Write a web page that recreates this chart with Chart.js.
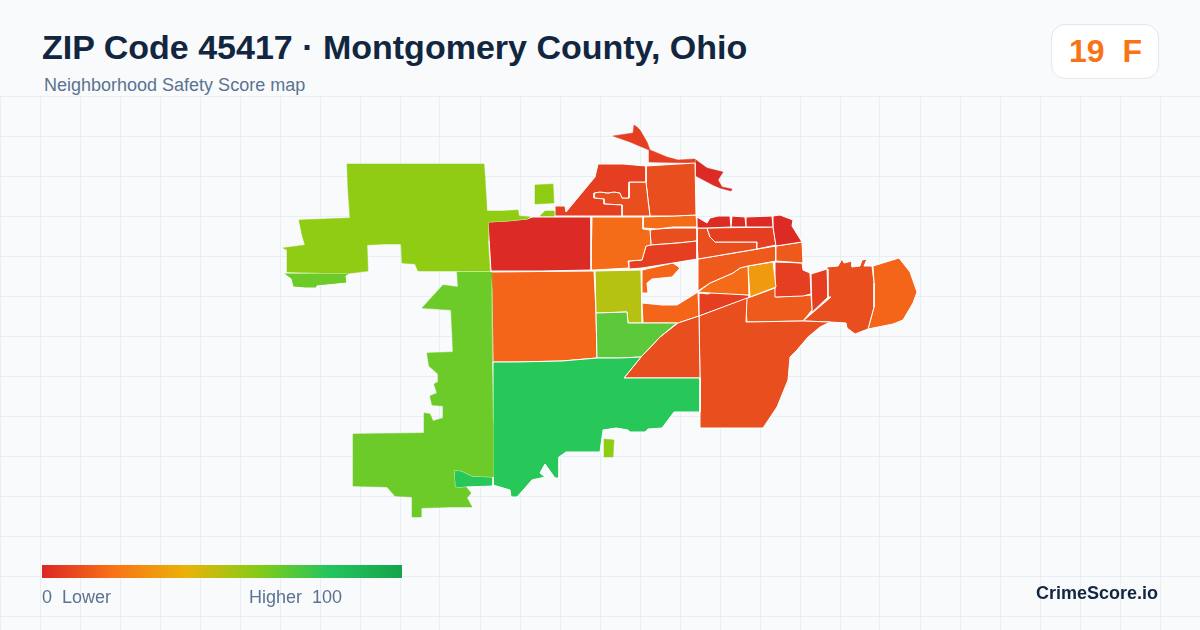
<!DOCTYPE html>
<html><head><meta charset="utf-8">
<script src="https://cdn.jsdelivr.net/npm/chart.js@4"></script>
<style>
html,body{margin:0;padding:0;width:1200px;height:630px;overflow:hidden;background:#f8fafc;font-family:"Liberation Sans",Arial,sans-serif}
#c{position:absolute;left:0;top:96px}
.t{position:absolute;white-space:pre;line-height:1}
#title{left:42px;top:30px;font-size:34px;font-weight:700;color:#13263f}
#sub{left:44px;top:76px;font-size:18px;color:#5b7390}
#badge{position:absolute;left:1051px;top:24px;width:106px;height:53px;background:#fff;border:1px solid #e2e8f0;border-radius:14px}
#score{left:1069px;top:35px;font-size:32px;font-weight:700;color:#f97316}
#bar{position:absolute;left:42px;top:565px;width:360px;height:13px;background:linear-gradient(90deg,#dc2626 0%,#f97316 20%,#eab308 40%,#84cc16 60%,#22c55e 80%,#16a34a 100%)}
.lg{font-size:18px;color:#5b7390;top:588px}
#brand{left:1036px;top:584px;font-size:18px;font-weight:700;color:#13263f}
</style></head><body>
<canvas id="c" width="1200" height="534"></canvas>
<div class="t" id="title">ZIP Code 45417 · Montgomery County, Ohio</div>
<div class="t" id="sub">Neighborhood Safety Score map</div>
<div id="badge"></div><div class="t" id="score">19  F</div>
<div id="bar"></div>
<div class="t lg" style="left:42px">0  Lower</div>
<div class="t lg" style="left:249px">Higher  100</div>
<div class="t" id="brand">CrimeScore.io</div>
<script>
const lime="#8fcc13", grass="#6ccb28", green="#28c75a", midGreen="#5cc93a", olive="#b5c212";
const red="#dc2b24", red2="#e63e20", flame="#e84e1e", flame2="#ee5a1b", orange="#f4651a", orange2="#f46b18", amber="#f09a10";

const nwLarge=[[347,164],[484,164],[485,177],[487,211],[503,211],[518,210],[519,216],[530,217],[527,219],[507,221],[488,222],[488,241],[490,271],[418,271],[415,264],[402,263],[401,244],[384,244],[367,245],[368,271],[352,273],[323,273],[287,272],[287,250],[283,248],[305,245],[302,235],[299,220],[324,219],[350,218],[348,190]];
const nwSquare=[[535,185],[553,184],[554,203],[535,204]];
const nwSliver=[[540,216],[545,211],[554,211],[554,216]];
const wSliver=[[283,273],[352,273],[346,276],[347,283],[317,286],[317,288],[305,288],[293,287],[291,279]];
const westLarge=[[457,272],[491,272],[492,290],[492,362],[493,423],[493,477],[472,476],[462,471],[454,470],[455,487],[460,488],[466,487],[471,493],[467,498],[472,507],[450,507],[421,508],[421,517],[412,517],[412,497],[395,496],[387,487],[353,486],[353,434],[424,433],[424,413],[430,414],[433,421],[443,418],[443,406],[432,405],[430,396],[437,393],[434,384],[438,382],[438,374],[429,366],[427,353],[453,352],[451,310],[437,309],[422,308],[443,285],[458,287]];
const notch=[[454,470],[462,471],[472,476],[493,477],[493,486],[466,487],[460,488],[455,487]];
const south=[[493,362],[516,362],[562,361],[597,358],[620,358],[641,357],[624,378],[700,378],[700,412],[674,412],[662,428],[648,429],[645,432],[630,432],[628,430],[616,428],[603,430],[600,452],[597,452],[566,452],[559,457],[559,478],[555,478],[545,464],[540,473],[545,477],[532,480],[517,497],[511,497],[510,490],[493,485],[493,425]];
const midSouth=[[596,313],[627,312],[628,323],[677,323],[660,337],[641,357],[620,358],[597,358]];
const centerOlive=[[595,271],[641,270],[642,323],[628,323],[627,312],[596,313]];
const tinyLime=[[604,439],[614,440],[613,457],[604,457]];
const diagonal=[[624,378],[641,357],[660,337],[678,323],[699,316],[700,378]];
const southEast=[[699,316],[747,298],[746,322],[803,321],[830,322],[820,327],[808,337],[797,350],[790,357],[788,380],[777,407],[763,428],[701,428],[700,378]];
const bigRed=[[488,222],[507,221],[527,219],[532,217],[591,217],[591,270],[542,271],[491,271]];
const bigOrange=[[490,272],[594,271],[596,313],[597,358],[562,361],[516,362],[493,362],[492,290]];
const centerOrange=[[592,217],[643,217],[643,229],[650,230],[651,245],[646,246],[642,260],[628,261],[629,268],[594,270],[591,270]];
const band=[[629,261],[642,260],[646,246],[651,245],[678,243],[697,241],[697,259],[673,263],[642,268],[629,269]];
const north=[[555,206],[565,206],[566,212],[595,177],[598,164],[623,164],[646,166],[646,182],[629,182],[629,198],[622,198],[620,193],[614,192],[608,193],[600,192],[594,193],[594,198],[604,199],[604,204],[622,205],[622,216],[555,216]];
const northInner=[[629,182],[646,182],[648,200],[650,216],[622,216],[622,205],[604,204],[604,199],[594,198],[594,193],[600,192],[608,193],[614,192],[620,193],[622,198],[629,198]];
const northBlock=[[646,166],[695,163],[696,215],[673,216],[650,216],[648,200],[646,182]];
const peak=[[613,136],[633,133],[634,125],[637,127],[640,130],[647,142],[650,150],[667,157],[678,160],[695,159],[695,163],[649,162],[649,150],[630,142]];
const spur=[[696,160],[707,168],[723,172],[718,180],[722,187],[732,189],[731,191],[720,188],[713,185],[696,176]];
const strip=[[643,217],[673,216],[696,215],[697,227],[673,227],[657,229],[643,228]];
const stripLow=[[650,230],[657,229],[673,228],[697,228],[697,241],[678,243],[651,245]];
const ne1=[[697,217],[707,223],[710,218],[718,216],[730,216],[731,227],[707,228],[697,228]];
const ne2=[[732,216],[745,217],[746,227],[731,227]];
const ne3=[[746,217],[772,216],[773,227],[746,227]];
const ne4=[[773,216],[780,215],[793,220],[792,226],[802,242],[776,246],[773,227]];
const ne5=[[707,228],[773,227],[776,245],[757,249],[757,242],[715,242],[710,237]];
const ne6=[[697,228],[707,228],[710,237],[715,242],[757,242],[757,249],[698,259],[697,242]];
const ne7=[[776,246],[802,242],[803,263],[776,261]];
const east1=[[698,259],[776,246],[776,261],[748,266],[740,268],[733,273],[710,283],[698,291]];
const east2=[[698,292],[710,283],[733,273],[740,268],[748,266],[749,295],[710,293]];
const amberCell=[[748,266],[773,262],[776,287],[750,297]];
const east3=[[775,262],[802,263],[803,270],[810,273],[811,294],[803,296],[776,297],[775,287]];
const east4=[[745,299],[775,288],[776,297],[811,295],[812,310],[803,321],[747,322]];
const eastStrip=[[811,274],[827,269],[828,297],[803,321],[812,312]];
const far1=[[827,267],[838,266],[842,259],[844,263],[852,261],[852,267],[860,266],[862,260],[867,259],[864,266],[872,266],[874,283],[874,307],[868,329],[855,334],[847,328],[846,323],[830,322],[803,321],[831,297],[828,297]];
const far2=[[873,266],[899,258],[910,272],[917,292],[913,303],[903,320],[893,324],[868,329],[874,307],[874,283]];
const holeTop=[[642,270],[673,263],[680,268],[672,277],[652,279],[647,283],[648,293],[642,293]];
const holeLow=[[642,303],[662,305],[677,305],[698,292],[699,316],[678,323],[643,323]];
const lowRed=[[699,293],[708,294],[712,292],[749,295],[749,298],[699,316]];

const regions=[nwLarge,nwSquare,nwSliver,wSliver,westLarge,notch,south,midSouth,centerOlive,tinyLime,diagonal,southEast,bigRed,bigOrange,centerOrange,band,north,northInner,northBlock,peak,spur,strip,stripLow,ne1,ne2,ne3,ne4,ne5,ne6,ne7,east1,east2,amberCell,east3,east4,eastStrip,far1,far2,holeTop,holeLow,lowRed];
const regionColors=[lime,lime,lime,grass,grass,green,green,midGreen,olive,lime,flame,flame,red,orange,orange2,red2,red2,flame,flame,red2,red,orange2,flame,red,red,red,red,red2,flame,flame2,flame2,orange2,amber,red2,flame2,red2,flame,orange,orange,orange,red2];
const regionStroked=[0,0,0,1,0,1,1,1,1,0,1,1,1,1,1,1,1,1,1,0,0,1,1,1,1,1,1,1,1,1,1,1,1,1,1,1,1,1,1,1,1];

const yGrid=[96,136,176,216,256,296,336,376,416,456,496,536,576,616];
const gridColor="#e8eff4";

new Chart(document.getElementById("c"),{
  type:"scatter",
  data:{datasets:regions.map((r,i)=>({
    data:r.concat([r[0]]).map(p=>({x:p[0],y:p[1]})),
    showLine:true,fill:"shape",tension:0,pointRadius:0,pointHoverRadius:0,
    backgroundColor:regionColors[i],
    borderColor:regionStroked[i]?"#ffffff":regionColors[i],
    borderWidth:regionStroked[i]?1:0.5,borderJoinStyle:"round"
  }))},
  options:{
    responsive:false,animation:false,devicePixelRatio:1,events:[],
    layout:{padding:0},
    plugins:{legend:{display:false},tooltip:{enabled:false}},
    scales:{
      x:{type:"linear",min:0,max:1200,border:{display:false},
         grid:{color:gridColor,lineWidth:1,drawTicks:false},
         ticks:{display:false,stepSize:40,autoSkip:false}},
      y:{type:"linear",reverse:true,min:96,max:630,border:{display:false},
         grid:{color:gridColor,lineWidth:1,drawTicks:false},
         afterBuildTicks:s=>{s.ticks=yGrid.map(v=>({value:v}));},
         ticks:{display:false,autoSkip:false}}
    }
  }
});
</script>
</body></html>
